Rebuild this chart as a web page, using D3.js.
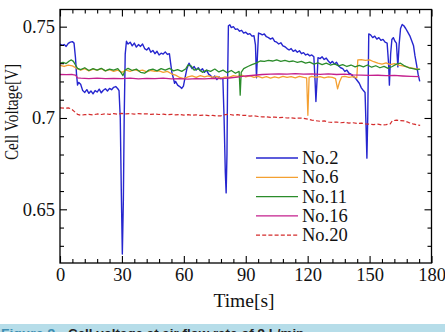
<!DOCTYPE html>
<html><head><meta charset="utf-8">
<script src="https://cdn.jsdelivr.net/npm/d3@7"></script>
<style>
html,body{margin:0;padding:0;background:#fff;overflow:hidden;}
svg{display:block;}
</style></head>
<body>
<script>
// ---- data ----
const seriesNames = ["No.2","No.6","No.11","No.16","No.20"];
const seriesColors = ["#2626cf","#f4a031","#2b8c2b","#c41f8d","#d42c2c"];

const t2 = [0,1,2,3,4,5,6,6.8,7.5,8,8.5,9,10,11,12,13,14,15,16,17,18,19,20,21,22,23,24,25,26,27,28,28.6,29.2,29.7,30.2,30.7,31.1,31.6,32.2,33,34,35,36,37,38,39,40,41,42,43,44,45,46,47,48,49,50,51,52,53,53.6,54.2,55,55.5,56,57,58,59,59.8,60.5,61.5,62.5,63.2,64,65,66,67,68,69,70,71,72,73,74,75,76,77,78,78.9,79.5,80.1,80.5,80.9,81.2,81.6,82.3,83,84,85,86,87,88,89,90,91,92,93,94,94.7,95.2,95.7,96.2,97,98,99,100,101,102,103,104,105,106,107,108,109,110,111,112,113,114,115,116,117,118,119,120,121,122,123,123.6,124,124.5,125,126,127,128,129,130,131,132,133,134,135,136,137,138,139,140,141,142,143,144,145,146,147,147.8,148.3,148.7,149.1,149.6,150.5,151.5,152.5,153.5,154.5,155.5,156.5,157.5,158.5,159.2,159.6,160.2,160.8,161.5,162.3,163,163.7,164.3,165,165.8,166.6,167.5,168.5,169.5,170.5,171.3,172,172.8,173.5,174.3];
const v2 = [0.7405,0.7398,0.7402,0.7392,0.7408,0.7415,0.7418,0.7410,0.7330,0.7240,0.7180,0.7195,0.7185,0.7150,0.7140,0.7155,0.7135,0.7148,0.7132,0.7150,0.7142,0.7158,0.7138,0.7152,0.7160,0.7148,0.7162,0.7155,0.7168,0.7172,0.7160,0.7150,0.7000,0.6600,0.6255,0.6550,0.7000,0.7350,0.7420,0.7405,0.7415,0.7395,0.7410,0.7388,0.7402,0.7392,0.7405,0.7380,0.7372,0.7385,0.7360,0.7370,0.7352,0.7365,0.7345,0.7355,0.7350,0.7362,0.7348,0.7352,0.7300,0.7250,0.7215,0.7190,0.7200,0.7180,0.7172,0.7162,0.7175,0.7215,0.7270,0.7300,0.7285,0.7270,0.7282,0.7262,0.7275,0.7258,0.7270,0.7250,0.7262,0.7240,0.7232,0.7218,0.7230,0.7210,0.7225,0.7215,0.7220,0.7000,0.6700,0.6590,0.6800,0.7200,0.7505,0.7510,0.7495,0.7500,0.7485,0.7488,0.7475,0.7480,0.7465,0.7470,0.7458,0.7462,0.7448,0.7450,0.7400,0.7220,0.7350,0.7465,0.7462,0.7455,0.7460,0.7445,0.7440,0.7432,0.7438,0.7420,0.7415,0.7405,0.7412,0.7395,0.7390,0.7380,0.7372,0.7380,0.7365,0.7372,0.7360,0.7368,0.7352,0.7358,0.7345,0.7350,0.7340,0.7345,0.7335,0.7200,0.7090,0.7200,0.7330,0.7325,0.7335,0.7320,0.7328,0.7312,0.7300,0.7310,0.7295,0.7305,0.7285,0.7275,0.7270,0.7255,0.7262,0.7245,0.7240,0.7228,0.7220,0.7205,0.7190,0.7165,0.7150,0.7140,0.6950,0.6780,0.7000,0.7460,0.7455,0.7440,0.7448,0.7432,0.7440,0.7425,0.7430,0.7415,0.7410,0.7300,0.7180,0.7350,0.7430,0.7440,0.7420,0.7410,0.7280,0.7400,0.7490,0.7512,0.7505,0.7490,0.7470,0.7450,0.7420,0.7395,0.7340,0.7290,0.7240,0.7200];

const t6 = [0,2,4,6,8,10,12,14,16,18,20,22,24,26,28,30,32,34,36,38,40,42,44,46,48,50,52,54,56,58,60,62,64,66,68,70,72,74,76,78,80,82,84,86,88,90,92,94,96,98,100,102,104,106,108,110,112,114,116,118,119.5,120.1,120.7,122,124,126,128,130,132,133.5,134.5,135.5,136.5,138,140,142,143.8,144.3,146,148,150,152,154,156,158,160,162,164,166,168,170,172,174];
const v6 = [0.7288,0.7282,0.7290,0.7285,0.7272,0.7262,0.7270,0.7258,0.7268,0.7262,0.7270,0.7258,0.7265,0.7255,0.7262,0.7250,0.7262,0.7255,0.7265,0.7258,0.7262,0.7252,0.7260,0.7255,0.7258,0.7250,0.7255,0.7242,0.7235,0.7222,0.7215,0.7225,0.7230,0.7222,0.7232,0.7225,0.7230,0.7222,0.7228,0.7218,0.7225,0.7222,0.7232,0.7228,0.7235,0.7225,0.7230,0.7222,0.7228,0.7220,0.7226,0.7218,0.7225,0.7220,0.7228,0.7222,0.7226,0.7220,0.7228,0.7222,0.7220,0.7015,0.7222,0.7228,0.7222,0.7226,0.7220,0.7225,0.7222,0.7215,0.7160,0.7200,0.7225,0.7228,0.7222,0.7226,0.7220,0.7318,0.7320,0.7315,0.7318,0.7308,0.7300,0.7295,0.7302,0.7292,0.7298,0.7290,0.7285,0.7280,0.7275,0.7270,0.7268];

const t11 = [0,1.5,3,4.5,5.5,6.5,7.5,8.5,10,12,14,16,18,20,22,24,26,28,29.5,30.5,31.5,33,35,37,39,41,43,45,47,49,51,53,55,57,59,61,62,63.5,65,67,69,71,73,75,77,79,81,83,85,86.8,87.3,87.8,89,91,93,95,97,99,101,103,105,107,109,111,113,115,117,119,121,123,125,127,129,131,133,135,137,139,141,143,145,147,149,151,153,155,157,159,161,163,165,167,169,171,173,174.5];
const v11 = [0.7300,0.7305,0.7298,0.7312,0.7318,0.7310,0.7290,0.7272,0.7265,0.7275,0.7260,0.7270,0.7262,0.7272,0.7258,0.7268,0.7262,0.7270,0.7250,0.7232,0.7262,0.7272,0.7260,0.7268,0.7250,0.7245,0.7262,0.7268,0.7258,0.7270,0.7262,0.7272,0.7258,0.7265,0.7255,0.7270,0.7290,0.7285,0.7262,0.7270,0.7250,0.7262,0.7255,0.7268,0.7252,0.7262,0.7248,0.7260,0.7245,0.7255,0.7125,0.7250,0.7270,0.7282,0.7292,0.7300,0.7312,0.7310,0.7315,0.7312,0.7318,0.7310,0.7315,0.7308,0.7312,0.7305,0.7310,0.7300,0.7306,0.7295,0.7302,0.7292,0.7300,0.7290,0.7296,0.7285,0.7292,0.7282,0.7290,0.7280,0.7288,0.7280,0.7290,0.7278,0.7286,0.7275,0.7283,0.7272,0.7282,0.7295,0.7300,0.7285,0.7275,0.7270,0.7265,0.7268];

const t16 = [0,3,6,7.5,8.5,10,14,18,22,26,30,34,38,42,46,50,54,58,62,66,70,74,78,82,86,90,94,98,102,106,110,114,118,122,126,130,134,138,142,146,150,154,158,162,166,170,174];
const v16 = [0.7238,0.7237,0.7238,0.7235,0.7220,0.7218,0.7216,0.7218,0.7215,0.7217,0.7215,0.7218,0.7214,0.7217,0.7215,0.7218,0.7214,0.7216,0.7213,0.7216,0.7214,0.7217,0.7215,0.7219,0.7224,0.7230,0.7234,0.7238,0.7240,0.7242,0.7240,0.7243,0.7240,0.7242,0.7239,0.7241,0.7238,0.7240,0.7236,0.7235,0.7233,0.7234,0.7232,0.7233,0.7230,0.7228,0.7226];

const t20 = [0,2,4,5.5,7,8.5,10,12,14,16,18,20,22,24,26,28,30,32,34,36,38,40,42,44,46,48,50,52,54,56,58,60,62,64,66,68,70,72,74,76,78,80,82,84,86,88,90,92,94,96,98,100,102,104,106,108,110,112,114,116,118,120,122,124,126,128,130,132,134,136,138,140,142,144,146,148,150,152,154,156,158,160,161,163,165,167,169,171,173,174.5];
const v20 = [0.7055,0.7054,0.7055,0.7050,0.7035,0.7020,0.7015,0.7018,0.7020,0.7017,0.7022,0.7019,0.7023,0.7020,0.7024,0.7021,0.7025,0.7022,0.7024,0.7021,0.7024,0.7022,0.7023,0.7020,0.7022,0.7019,0.7021,0.7018,0.7020,0.7017,0.7019,0.7016,0.7018,0.7015,0.7017,0.7014,0.7016,0.7013,0.7014,0.7011,0.7012,0.7018,0.7020,0.7016,0.7018,0.7014,0.7015,0.7010,0.7012,0.7008,0.7006,0.7007,0.7003,0.7005,0.7002,0.7003,0.7000,0.7001,0.6998,0.7000,0.6998,0.6994,0.6988,0.6985,0.6982,0.6984,0.6978,0.6976,0.6978,0.6974,0.6976,0.6972,0.6974,0.6970,0.6972,0.6968,0.6966,0.6964,0.6966,0.6962,0.6964,0.6968,0.6985,0.6988,0.6986,0.6984,0.6975,0.6968,0.6962,0.6960];

const xMajorTicks = [0,30,60,90,120,150,180];
const xMinorTicks = [6,12,18,24,36,42,48,54,66,72,78,84,96,102,108,114,126,132,138,144,156,162,168,174];
const yMajorTicks = [0.65,0.7,0.75];
const yMajorLabels = ["0.65","0.7","0.75"];
const yMinorTicks = [0.63,0.64,0.66,0.67,0.68,0.69,0.71,0.72,0.73,0.74];

const xTitle = "Time[s]";
const yTitle = "Cell Voltage[V]";
const captionLead = "Figure 9.";
const captionText = "Cell voltage at air flow rate of 9 L/min.";

// ---- layout ----
const W = 445, H = 332;
const L = 60, R = 431.5, T = 9.5, B = 263;
const serif = "'Liberation Serif','Times New Roman',serif";

const svg = d3.select("body").append("svg").attr("width", W).attr("height", H);
svg.append("rect").attr("width", W).attr("height", H).attr("fill", "#fff");

const x = d3.scaleLinear().domain([0,180]).range([L,R]);
const y = d3.scaleLinear().domain([0.6206,0.7594]).range([B,T]);

svg.append("clipPath").attr("id","plotclip").append("rect")
  .attr("x",L).attr("y",T).attr("width",R-L).attr("height",B-T);

const series = [
  {t:t2, v:v2, dash:null, w:1.4},
  {t:t6, v:v6, dash:null, w:1.3},
  {t:t11, v:v11, dash:null, w:1.3},
  {t:t16, v:v16, dash:null, w:1.3},
  {t:t20, v:v20, dash:"4,2.2", w:1.2}
];

const line = d3.line().x(d=>x(d[0])).y(d=>y(d[1]));
const gPlot = svg.append("g").attr("clip-path","url(#plotclip)");
series.forEach((s,i)=>{
  const pts = s.t.map((tt,k)=>[tt, s.v[k]]);
  gPlot.append("path").datum(pts)
    .attr("d", line)
    .attr("fill","none")
    .attr("stroke", seriesColors[i])
    .attr("stroke-width", s.w)
    .attr("stroke-linejoin","round")
    .attr("stroke-dasharray", s.dash);
});

function styleAxis(g){
  g.select(".domain").remove();
  g.selectAll("line").attr("stroke","#000").attr("stroke-width",1.1);
  g.selectAll("text").attr("font-family",serif).attr("font-size","18.5px").attr("fill","#111");
}
svg.append("g").attr("transform",`translate(0,${B})`)
  .call(d3.axisBottom(x).tickValues(xMajorTicks).tickSizeInner(-7).tickSizeOuter(0).tickPadding(5).tickFormat(d3.format("d")))
  .call(styleAxis);
svg.append("g").attr("transform",`translate(0,${B})`)
  .call(d3.axisBottom(x).tickValues(xMinorTicks).tickSizeInner(-4).tickSizeOuter(0).tickFormat(""))
  .call(styleAxis);
svg.append("g").attr("transform",`translate(0,${T})`)
  .call(d3.axisTop(x).tickValues(xMajorTicks).tickSizeInner(-7).tickSizeOuter(0).tickFormat(""))
  .call(styleAxis);
svg.append("g").attr("transform",`translate(0,${T})`)
  .call(d3.axisTop(x).tickValues(xMinorTicks).tickSizeInner(-4).tickSizeOuter(0).tickFormat(""))
  .call(styleAxis);
svg.append("g").attr("transform",`translate(${L},0)`)
  .call(d3.axisLeft(y).tickValues(yMajorTicks).tickSizeInner(-7).tickSizeOuter(0).tickPadding(5)
    .tickFormat((d,i)=>yMajorLabels[i]))
  .call(styleAxis);
svg.append("g").attr("transform",`translate(${L},0)`)
  .call(d3.axisLeft(y).tickValues(yMinorTicks).tickSizeInner(-4).tickSizeOuter(0).tickFormat(""))
  .call(styleAxis);
svg.append("g").attr("transform",`translate(${R},0)`)
  .call(d3.axisRight(y).tickValues(yMajorTicks).tickSizeInner(-7).tickSizeOuter(0).tickFormat(""))
  .call(styleAxis);
svg.append("g").attr("transform",`translate(${R},0)`)
  .call(d3.axisRight(y).tickValues(yMinorTicks).tickSizeInner(-4).tickSizeOuter(0).tickFormat(""))
  .call(styleAxis);

svg.append("rect").attr("x",L).attr("y",T).attr("width",R-L).attr("height",B-T)
  .attr("fill","none").attr("stroke","#000").attr("stroke-width",1.3);

svg.append("text").attr("x",244).attr("y",307).attr("text-anchor","middle")
  .attr("font-family",serif).attr("font-size","19.5px").attr("fill","#111").text(xTitle);
svg.append("text").attr("transform","translate(17.5,112) rotate(-90) scale(0.8,1)").attr("text-anchor","middle")
  .attr("font-family",serif).attr("font-size","19px").attr("fill","#111").text(yTitle);

const legY0 = 158, legDY = 19.3;
const leg = svg.append("g");
seriesNames.forEach((n,i)=>{
  const yy = legY0 + i*legDY;
  leg.append("line").attr("x1",256).attr("x2",298).attr("y1",yy).attr("y2",yy)
    .attr("stroke",seriesColors[i]).attr("stroke-width",1.3)
    .attr("stroke-dasharray", series[i].dash);
  leg.append("text").attr("x",302).attr("y",yy+6).attr("font-family",serif)
    .attr("font-size","18.5px").attr("fill","#111").text(n);
});

svg.append("rect").attr("x",0).attr("y",324).attr("width",W).attr("height",8).attr("fill","#b6dde9");
svg.append("text").attr("x",1).attr("y",338).attr("font-family","'Liberation Sans',Arial,sans-serif")
  .attr("font-size","13px").attr("font-weight","bold").attr("fill","#3f8fb3")
  .attr("textLength",58).attr("lengthAdjust","spacingAndGlyphs").text(captionLead);
svg.append("text").attr("x",68).attr("y",338).attr("font-family","'Liberation Sans',Arial,sans-serif")
  .attr("font-size","13px").attr("font-weight","bold").attr("fill","#222")
  .attr("textLength",240).attr("lengthAdjust","spacingAndGlyphs").text(captionText);
</script>
</body></html>
